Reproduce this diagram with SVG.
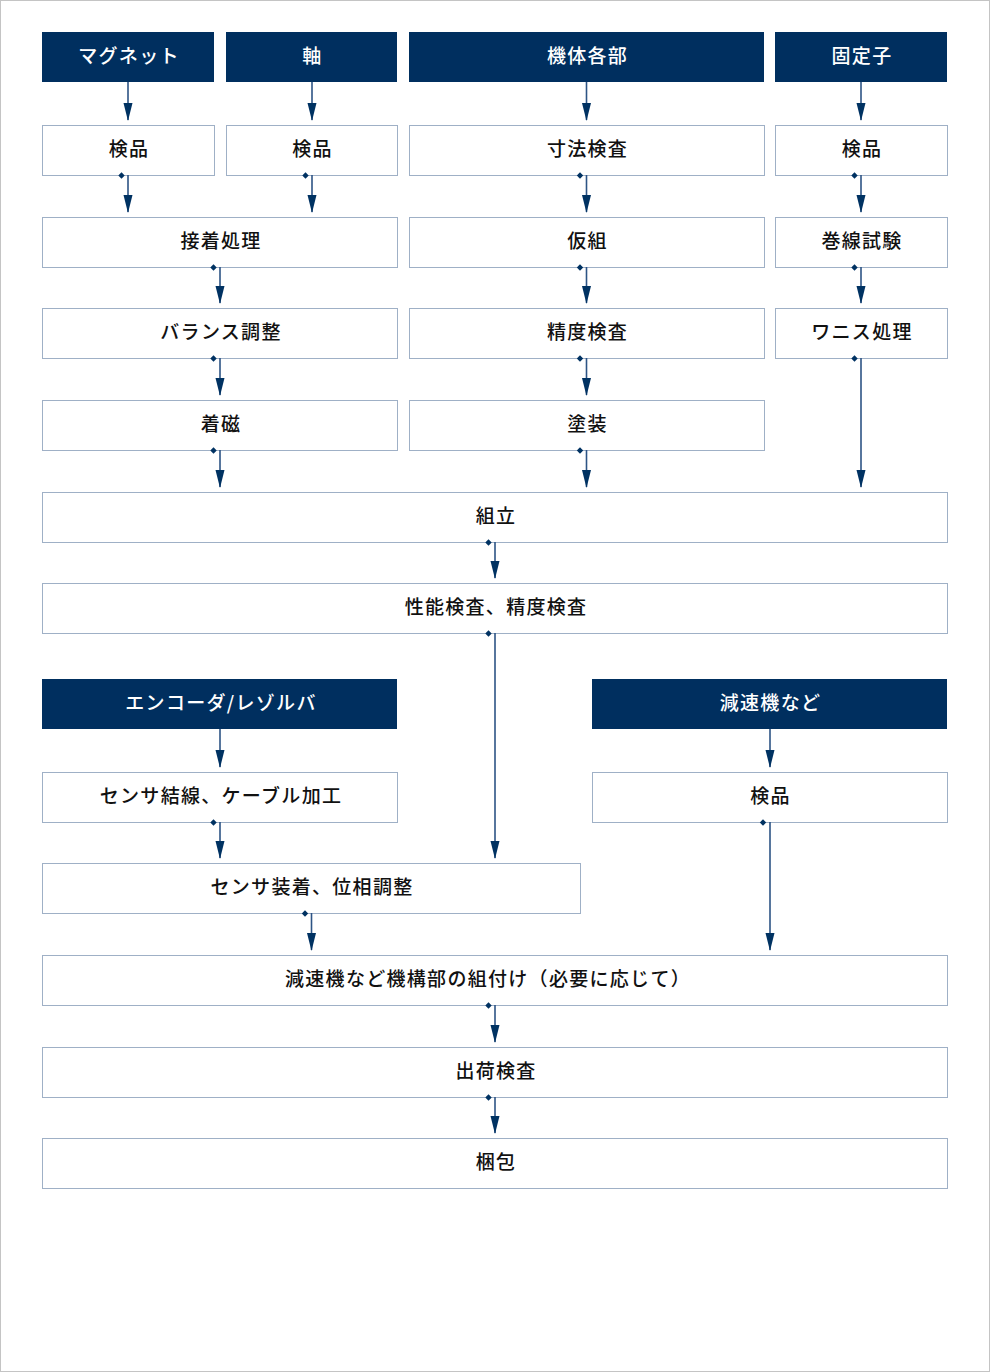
<svg xmlns="http://www.w3.org/2000/svg" width="990" height="1372" viewBox="0 0 990 1372">
<style>
.bg{fill:#fff;stroke:#c4c4c4;stroke-width:1}
.hd{fill:#002f5f}
.bx{fill:#fff;stroke:#9fb0c6;stroke-width:1}
.t{font-family:"Noto Sans CJK JP","Noto Sans",sans-serif;font-size:19px;font-weight:500;letter-spacing:1.3px;text-anchor:middle;fill:#111}
.tw{fill:#fff}
.ln{stroke:#2d5485;stroke-width:1.6;fill:none}
.dm{fill:#003262}
</style>
<defs>
<marker id="ah" markerWidth="18" markerHeight="10" refX="17" refY="5" orient="auto" markerUnits="userSpaceOnUse" viewBox="0 0 18 10">
<path d="M0,0.5 L18,5 L0,9.5 Z" fill="#003262"/>
</marker>
<path id="dia" d="M0,-3.2 L3.2,0 L0,3.2 L-3.2,0 Z"/>
</defs>
<rect class="bg" x="0.5" y="0.5" width="989" height="1371"/>

<g id="n-magnet"><rect class="hd" x="42" y="32" width="172" height="50"/><text class="t tw" x="129" y="63">マグネット</text></g>
<g id="n-jiku"><rect class="hd" x="226" y="32" width="171" height="50"/><text class="t tw" x="312.5" y="63">軸</text></g>
<g id="n-kitai"><rect class="hd" x="409" y="32" width="355" height="50"/><text class="t tw" x="587.5" y="63">機体各部</text></g>
<g id="n-koteishi"><rect class="hd" x="775" y="32" width="172" height="50"/><text class="t tw" x="862" y="63">固定子</text></g>

<g id="n-kenpin1"><rect class="bx" x="42.5" y="125.5" width="172" height="50"/><text class="t" x="129" y="156">検品</text></g>
<g id="n-kenpin2"><rect class="bx" x="226.5" y="125.5" width="171" height="50"/><text class="t" x="312.5" y="156">検品</text></g>
<g id="n-sunpo"><rect class="bx" x="409.5" y="125.5" width="355" height="50"/><text class="t" x="587.5" y="156">寸法検査</text></g>
<g id="n-kenpin4"><rect class="bx" x="775.5" y="125.5" width="172" height="50"/><text class="t" x="862" y="156">検品</text></g>

<g id="n-setchaku"><rect class="bx" x="42.5" y="217.5" width="355" height="50"/><text class="t" x="221" y="248">接着処理</text></g>
<g id="n-karigumi"><rect class="bx" x="409.5" y="217.5" width="355" height="50"/><text class="t" x="587.5" y="248">仮組</text></g>
<g id="n-makisen"><rect class="bx" x="775.5" y="217.5" width="172" height="50"/><text class="t" x="862" y="248">巻線試験</text></g>

<g id="n-balance"><rect class="bx" x="42.5" y="308.5" width="355" height="50"/><text class="t" x="221" y="339">バランス調整</text></g>
<g id="n-seido"><rect class="bx" x="409.5" y="308.5" width="355" height="50"/><text class="t" x="587.5" y="339">精度検査</text></g>
<g id="n-wanisu"><rect class="bx" x="775.5" y="308.5" width="172" height="50"/><text class="t" x="862" y="339">ワニス処理</text></g>

<g id="n-chakuji"><rect class="bx" x="42.5" y="400.5" width="355" height="50"/><text class="t" x="221" y="431">着磁</text></g>
<g id="n-tosou"><rect class="bx" x="409.5" y="400.5" width="355" height="50"/><text class="t" x="587.5" y="431">塗装</text></g>

<g id="n-kumitate"><rect class="bx" x="42.5" y="492.5" width="905" height="50"/><text class="t" x="496" y="523">組立</text></g>
<g id="n-seino"><rect class="bx" x="42.5" y="583.5" width="905" height="50"/><text class="t" x="496" y="614">性能検査、精度検査</text></g>

<g id="n-encoder"><rect class="hd" x="42" y="679" width="355" height="50"/><text class="t tw" x="221" y="710">エンコーダ/レゾルバ</text></g>
<g id="n-gensoku"><rect class="hd" x="592" y="679" width="355" height="50"/><text class="t tw" x="770.5" y="710">減速機など</text></g>

<g id="n-sensor1"><rect class="bx" x="42.5" y="772.5" width="355" height="50"/><text class="t" x="221" y="803">センサ結線、ケーブル加工</text></g>
<g id="n-kenpin5"><rect class="bx" x="592.5" y="772.5" width="355" height="50"/><text class="t" x="770.5" y="803">検品</text></g>

<g id="n-sensor2"><rect class="bx" x="42.5" y="863.5" width="538" height="50"/><text class="t" x="312" y="894">センサ装着、位相調整</text></g>

<g id="n-kumitsuke"><rect class="bx" x="42.5" y="955.5" width="905" height="50"/><text class="t" x="488" y="986">減速機など機構部の組付け（必要に応じて）</text></g>
<g id="n-shukka"><rect class="bx" x="42.5" y="1047.5" width="905" height="50"/><text class="t" x="496" y="1078">出荷検査</text></g>
<g id="n-konpo"><rect class="bx" x="42.5" y="1138.5" width="905" height="50"/><text class="t" x="496" y="1169">梱包</text></g>

<g id="connectors">
<path class="ln" marker-end="url(#ah)" d="M128,82 V120"/>
<path class="ln" marker-end="url(#ah)" d="M312,82 V120"/>
<path class="ln" marker-end="url(#ah)" d="M586.5,82 V120"/>
<path class="ln" marker-end="url(#ah)" d="M861,82 V120"/>

<use href="#dia" class="dm" x="121.5" y="175.5"/><path class="ln" marker-end="url(#ah)" d="M128,175 V212"/>
<use href="#dia" class="dm" x="305.5" y="175.5"/><path class="ln" marker-end="url(#ah)" d="M312,175 V212"/>
<use href="#dia" class="dm" x="580" y="175.5"/><path class="ln" marker-end="url(#ah)" d="M586.5,175 V212"/>
<use href="#dia" class="dm" x="854.5" y="175.5"/><path class="ln" marker-end="url(#ah)" d="M861,175 V212"/>

<use href="#dia" class="dm" x="213.5" y="267.5"/><path class="ln" marker-end="url(#ah)" d="M220,267 V303"/>
<use href="#dia" class="dm" x="580" y="267.5"/><path class="ln" marker-end="url(#ah)" d="M586.5,267 V303"/>
<use href="#dia" class="dm" x="854.5" y="267.5"/><path class="ln" marker-end="url(#ah)" d="M861,267 V303"/>

<use href="#dia" class="dm" x="213.5" y="358.5"/><path class="ln" marker-end="url(#ah)" d="M220,358 V395"/>
<use href="#dia" class="dm" x="580" y="358.5"/><path class="ln" marker-end="url(#ah)" d="M586.5,358 V395"/>
<use href="#dia" class="dm" x="854.5" y="358.5"/><path class="ln" marker-end="url(#ah)" d="M861,358 V487"/>

<use href="#dia" class="dm" x="213.5" y="450.5"/><path class="ln" marker-end="url(#ah)" d="M220,450 V487"/>
<use href="#dia" class="dm" x="580" y="450.5"/><path class="ln" marker-end="url(#ah)" d="M586.5,450 V487"/>

<use href="#dia" class="dm" x="488.5" y="542.5"/><path class="ln" marker-end="url(#ah)" d="M495,542 V578"/>
<use href="#dia" class="dm" x="488.5" y="633.5"/><path class="ln" marker-end="url(#ah)" d="M495,633 V858"/>

<path class="ln" marker-end="url(#ah)" d="M220,729 V767"/>
<path class="ln" marker-end="url(#ah)" d="M770,729 V767"/>

<use href="#dia" class="dm" x="213.5" y="822.5"/><path class="ln" marker-end="url(#ah)" d="M220,822 V858"/>
<use href="#dia" class="dm" x="763" y="822.5"/><path class="ln" marker-end="url(#ah)" d="M770,822 V950"/>

<use href="#dia" class="dm" x="305" y="913.5"/><path class="ln" marker-end="url(#ah)" d="M311.5,913 V950"/>

<use href="#dia" class="dm" x="488.5" y="1005.5"/><path class="ln" marker-end="url(#ah)" d="M495,1005 V1042"/>
<use href="#dia" class="dm" x="488.5" y="1097.5"/><path class="ln" marker-end="url(#ah)" d="M495,1097 V1133"/>
</g>
</svg>
